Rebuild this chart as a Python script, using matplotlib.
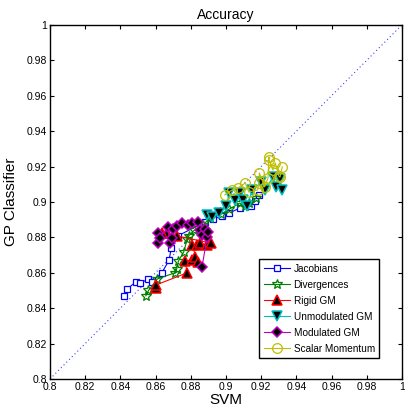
import matplotlib.pyplot as plt

plt.rcParams["font.family"] = ["Liberation Sans", "DejaVu Sans"]

# Jacobians
jac_x = [0.842, 0.8438, 0.849, 0.851, 0.856, 0.858, 0.8636, 0.8676, 0.869, 0.873,
         0.888, 0.8926, 0.898, 0.902, 0.908, 0.914, 0.9165, 0.919]
jac_y = [0.847, 0.8508, 0.855, 0.854, 0.8565, 0.855, 0.860, 0.867, 0.874, 0.881,
         0.8887, 0.8904, 0.892, 0.8938, 0.8966, 0.8977, 0.9006, 0.904]

# Divergences
div_x = [0.8545, 0.856, 0.861, 0.871, 0.872, 0.873, 0.876, 0.878, 0.879, 0.882,
         0.887, 0.891, 0.897, 0.902, 0.908, 0.911, 0.913, 0.917]
div_y = [0.847, 0.850, 0.8565, 0.860, 0.862, 0.8667, 0.8717, 0.879, 0.881, 0.884,
         0.887, 0.891, 0.893, 0.896, 0.8994, 0.898, 0.8995, 0.902]

# Rigid GM
rig_x = [0.860, 0.8605, 0.878, 0.8767, 0.8807, 0.8824, 0.884, 0.8807, 0.8835,
         0.8852, 0.8892, 0.8915, 0.872, 0.8665, 0.8636]
rig_y = [0.8514, 0.8532, 0.860, 0.8667, 0.8672, 0.869, 0.866, 0.8757, 0.8757,
         0.8768, 0.8757, 0.8768, 0.8808, 0.8825, 0.8825]

# Unmodulated GM
unm_x = [0.889, 0.892, 0.896, 0.900, 0.902, 0.905, 0.908, 0.9097, 0.912, 0.915,
         0.920, 0.922, 0.9267, 0.9284, 0.9307, 0.932]
unm_y = [0.8927, 0.8915, 0.894, 0.8977, 0.905, 0.901, 0.905, 0.901, 0.898, 0.9068,
         0.911, 0.9068, 0.914, 0.9085, 0.913, 0.9068]

# Modulated GM
mod_x = [0.8614, 0.8614, 0.8625, 0.867, 0.868, 0.8693, 0.870, 0.872, 0.875, 0.8784,
         0.8807, 0.884, 0.8852, 0.8864, 0.888, 0.8892, 0.8898, 0.8864]
mod_y = [0.8825, 0.8768, 0.8797, 0.8859, 0.8768, 0.8797, 0.8847, 0.8864, 0.8881,
         0.887, 0.8881, 0.8887, 0.8842, 0.8814, 0.8847, 0.880, 0.883, 0.8633]

# Scalar Momentum
sca_x = [0.8994, 0.9034, 0.907, 0.911, 0.913, 0.918, 0.9187, 0.919, 0.922, 0.9239,
         0.9244, 0.9244, 0.9267, 0.928, 0.930, 0.9307, 0.932]
sca_y = [0.904, 0.9068, 0.908, 0.9107, 0.9056, 0.9068, 0.9107, 0.9164, 0.9085,
         0.9136, 0.9254, 0.9237, 0.918, 0.922, 0.9147, 0.914, 0.9198]

ticks = [0.8, 0.82, 0.84, 0.86, 0.88, 0.9, 0.92, 0.94, 0.96, 0.98, 1]
tick_labels = ["0.8", "0.82", "0.84", "0.86", "0.88", "0.9", "0.92", "0.94", "0.96", "0.98", "1"]

fig = plt.figure(figsize=(4.06, 4.08), dpi=100)
ax = fig.add_axes([0.123, 0.071, 0.867, 0.868])

ax.plot([0.8, 1], [0.8, 1], linestyle=(0, (1, 2.5)), color="#4040ff", linewidth=0.8)

ax.plot(jac_x, jac_y, color="b", linewidth=0.8, marker="s", markersize=4.5,
        markerfacecolor="white", markeredgecolor="b", markeredgewidth=0.9, label="Jacobians")
ax.plot(div_x, div_y, color="#008000", linewidth=0.8, marker="*", markersize=7,
        markerfacecolor="none", markeredgecolor="#008000", markeredgewidth=0.9, label="Divergences")
ax.plot(rig_x, rig_y, color="red", linewidth=0.8, marker="^", markersize=6.5,
        markerfacecolor="black", markeredgecolor="red", markeredgewidth=1.1, label="Rigid GM")
ax.plot(unm_x, unm_y, color="#00bfbf", linewidth=0.8, marker="v", markersize=6.5,
        markerfacecolor="black", markeredgecolor="#00bfbf", markeredgewidth=1.1, label="Unmodulated GM")
ax.plot(mod_x, mod_y, color="#bf00bf", linewidth=0.8, marker="D", markersize=5,
        markerfacecolor="black", markeredgecolor="#bf00bf", markeredgewidth=1.1, label="Modulated GM")
ax.plot(sca_x, sca_y, color="#bfbf00", linewidth=0.8, marker="o", markersize=7,
        markerfacecolor="none", markeredgecolor="#bfbf00", markeredgewidth=0.9, label="Scalar Momentum")

ax.set_xlim(0.8, 1)
ax.set_ylim(0.8, 1)
ax.set_xticks(ticks)
ax.set_xticklabels(tick_labels)
ax.set_yticks(ticks)
ax.set_yticklabels(tick_labels)
ax.tick_params(direction="in", top=True, right=True, labelsize=7.5, length=3, pad=2)
for s in ax.spines.values():
    s.set_linewidth(1.0)

ax.set_title("Accuracy", fontsize=10, pad=4)
ax.set_xlabel("SVM", fontsize=11, labelpad=1)
ax.set_ylabel("GP Classifier", fontsize=11, labelpad=6)

leg = ax.legend(loc="lower right", bbox_to_anchor=(0.95, 0.045), fontsize=7.2,
                fancybox=False, framealpha=1, edgecolor="black", handlelength=2.6,
                borderpad=0.45, labelspacing=0.6, handletextpad=0.4)
leg.get_frame().set_linewidth(1.0)

fig.savefig("out.png", dpi=100)
